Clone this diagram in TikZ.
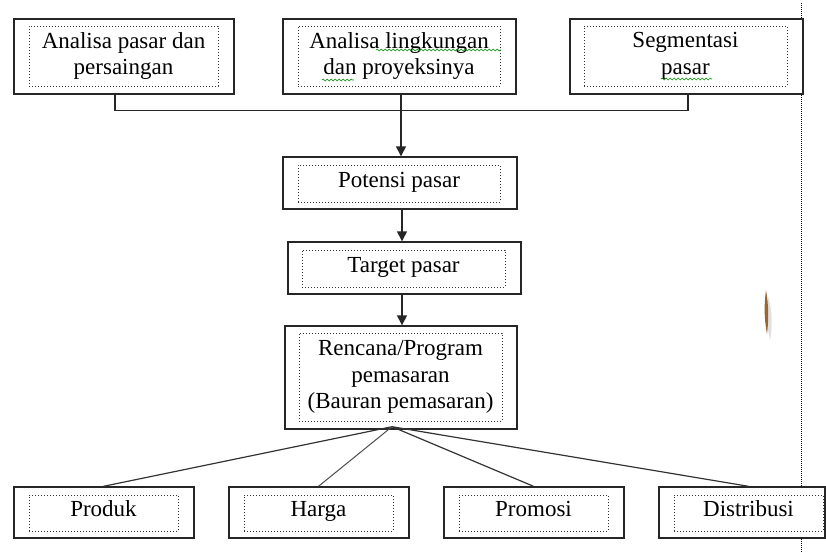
\documentclass[tikz,border=0pt]{standalone}
\usepackage{fontspec}
\setmainfont{Liberation Serif}
\usetikzlibrary{arrows.meta,decorations.pathmorphing}
\tikzset{
 outerbox/.style={draw=black!85, line width=1.4pt, fill=white, inner sep=0pt},
 innerbox/.style={draw=black!80, dotted, line width=1pt, inner sep=0pt, align=center, font=\fontsize{23}{26.5}\selectfont},
 oneline/.style={text height=14pt, text depth=7pt},
 conn/.style={line width=1.4pt, draw=black!85},
 fan/.style={line width=1.2pt, draw=black!80},
 arr/.style={conn, -{Triangle[length=10pt,width=10pt]}},
 squig/.style={draw=green!55!black, line width=0.6pt, decorate, decoration={snake, amplitude=0.9pt, segment length=4pt}},
}
\begin{document}
\begin{tikzpicture}[x=1pt,y=-1pt]
\useasboundingbox (0,0) rectangle (826,552);
% page margin line
\draw[densely dotted, line width=1pt, black] (801,3) -- (801,552);
% top row
\node[outerbox, minimum width=220pt, minimum height=75pt] (b1) at (124,56.5) {};
\node[innerbox, minimum width=189pt, minimum height=60pt] (b1in) at (123.5,56) {Analisa pasar dan\\persaingan};
\node[outerbox, minimum width=233pt, minimum height=75pt] (b2) at (399.5,56.5) {};
\node[innerbox, minimum width=202pt, minimum height=60pt] (b2in) at (399,56) {Analisa lingkungan\\dan proyeksinya};
\node[outerbox, minimum width=233pt, minimum height=75pt] (b3) at (686.5,56.5) {};
\node[innerbox, minimum width=203pt, minimum height=60pt] (b3in) at (685.5,56) {Segmentasi\\pasar};
% middle column
\node[outerbox, minimum width=234pt, minimum height=52pt] (pot) at (400,183) {};
\node[innerbox, oneline, minimum width=202pt, minimum height=37pt] (potin) at (399,183.5) {Potensi pasar};
\node[outerbox, minimum width=233pt, minimum height=52pt] (tgt) at (404.5,268) {};
\node[innerbox, oneline, minimum width=203pt, minimum height=37pt] (tgtin) at (403.5,268.5) {Target pasar};
\node[outerbox, minimum width=232pt, minimum height=103pt] (ren) at (401,377.5) {};
\node[innerbox, minimum width=203pt, minimum height=88pt] (renin) at (400.5,377) {Rencana/Program\\pemasaran\\(Bauran pemasaran)};
% bottom row
\node[outerbox, minimum width=180pt, minimum height=51pt] (prod) at (104,512.5) {};
\node[innerbox, oneline, minimum width=149pt, minimum height=36pt] (prodin) at (103.5,513) {Produk};
\node[outerbox, minimum width=180pt, minimum height=51pt] (harga) at (319,512.5) {};
\node[innerbox, oneline, minimum width=149pt, minimum height=36pt] (hargain) at (318.5,513) {Harga};
\node[outerbox, minimum width=180pt, minimum height=51pt] (prom) at (534,512.5) {};
\node[innerbox, oneline, minimum width=149pt, minimum height=36pt] (promin) at (533.5,513) {Promosi};
\node[outerbox, minimum width=166pt, minimum height=51pt] (dist) at (742,512.5) {};
\node[innerbox, oneline, minimum width=149pt, minimum height=36pt] (distin) at (748.5,513) {Distribusi};
% spell-check squiggles
\draw[squig] (376,50) -- (501,50);
\draw[squig] (322,80) -- (354,80);
\draw[squig] (661,79) -- (712,79);
% top connectors
\draw[conn] ([xshift=-9pt]b1.south) -- ++(0,16) -| ([xshift=1.5pt]b3.south);
\draw[arr] ([xshift=1.5pt]b2.south) -- ([xshift=1.5pt]b2.south |- pot.north);
\draw[arr] ([xshift=2pt]pot.south) -- ([xshift=2pt]pot.south |- tgt.north);
\draw[arr] ([xshift=-2.5pt]tgt.south) -- ([xshift=-2.5pt]tgt.south |- ren.north);
% fan out
\coordinate (src) at ([xshift=-9pt,yshift=3pt]ren.south);
\draw[fan] (src) -- (prodin |- prod.north);
\draw[fan, line width=1pt, black!70] (src) -- (hargain |- harga.north);
\draw[fan] (src) -- (promin |- prom.north);
\draw[fan] (src) -- (distin |- dist.north);
% stray cursor mark
\fill[black!20, opacity=0.6] (768,296) .. controls (772,310) and (773,322) .. (770,340) .. controls (766,322) and (766,310) .. (768,296);
\fill[brown!80!black] (766,290) .. controls (768.5,305) and (769,318) .. (767,334) .. controls (764,318) and (764,305) .. (766,290);
\end{tikzpicture}
\end{document}
